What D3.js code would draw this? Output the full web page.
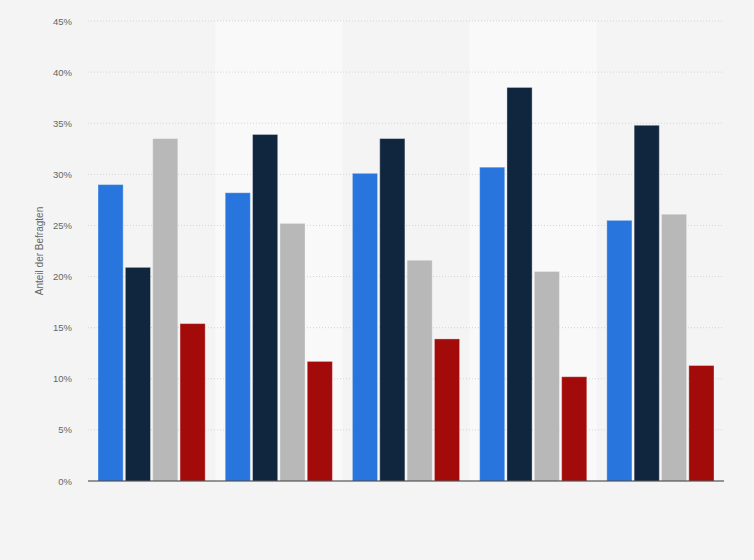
<!DOCTYPE html>
<html>
<head>
<meta charset="utf-8">
<script src="https://cdn.jsdelivr.net/npm/d3@7"></script>
<style>
  body { margin: 0; background: #f4f4f4; }
  .chart text { font-family: "Liberation Sans", Arial, sans-serif; }
</style>
</head>
<body>
<div class="chart"></div>
<script>
var margin = { top: 21, right: 30, bottom: 79, left: 88 }

var width = 754 - margin.left - margin.right;
var height = 560 - margin.top - margin.bottom;

// data (no category labels are shown)
var groups = ['g1', 'g2', 'g3', 'g4', 'g5'];
var seriesNames = ['s1', 's2', 's3', 's4'];
var series1 = [29.0, 28.2, 30.1, 30.7, 25.5];
var series2 = [20.9, 33.9, 33.5, 38.5, 34.8];
var series3 = [33.5, 25.2, 21.6, 20.5, 26.1];
var series4 = [15.4, 11.7, 13.9, 10.2, 11.3];
var yTicks = [0, 5, 10, 15, 20, 25, 30, 35, 40, 45];

var colors = ['#2876dd', '#10263f', '#b8b8b8', '#a30a0a'];
var allSeries = [series1, series2, series3, series4];

var svg = d3.select('.chart')
  .append('svg')
    .attr('width', width + margin.left + margin.right)
    .attr('height', height + margin.top + margin.bottom)
  .append('g')
    .attr('transform', `translate(${margin.left}, ${margin.top})`);

var yScale = d3.scaleLinear()
  .domain([0, 45])
  .range([height, 0]);

var xScale = d3.scaleBand()
  .domain(groups)
  .range([0, width]);

var xInner = d3.scaleBand()
  .domain(seriesNames)
  .range([10, xScale.bandwidth() - 10])
  .paddingInner(0.08);

// alternating column backgrounds
svg.selectAll('.band')
  .data(groups.filter((d, i) => i % 2 == 1))
  .enter()
  .append('rect')
    .attr('class', 'band')
    .attr('x', d => xScale(d))
    .attr('y', 0)
    .attr('width', xScale.bandwidth())
    .attr('height', height)
    .attr('fill', '#f9f9f9');

// gridlines
svg.selectAll('.grid')
  .data(yTicks.slice(1))
  .enter()
  .append('line')
    .attr('x1', 0)
    .attr('x2', width)
    .attr('y1', d => yScale(d))
    .attr('y2', d => yScale(d))
    .attr('stroke', '#d4d4d4')
    .attr('stroke-width', 1)
    .attr('stroke-dasharray', '1,2');

var yAxis = d3.axisLeft(yScale)
  .tickValues(yTicks)
  .tickFormat(d => d + '%')
  .tickSize(0)
  .tickPadding(16);

svg.append('g')
  .call(yAxis)
  .call(g => g.select('.domain').remove())
  .selectAll('text')
    .attr('fill', '#666')
    .style('font-size', '9.5px');

// bars
var rows = [];
groups.forEach((g, i) => {
  allSeries.forEach((s, j) => {
    rows.push({ group: g, name: seriesNames[j], value: s[i], color: colors[j] });
  });
});

svg.selectAll('.bar')
  .data(rows)
  .enter()
  .append('rect')
    .attr('class', 'bar')
    .attr('x', d => xScale(d.group) + xInner(d.name))
    .attr('y', d => yScale(d.value))
    .attr('width', xInner.bandwidth())
    .attr('height', d => height - yScale(d.value))
    .attr('fill', d => d.color)
    .attr('stroke', 'rgba(255,255,255,0.35)')
    .attr('stroke-width', 1);

// baseline
svg.append('line')
  .attr('x1', 0)
  .attr('x2', width)
  .attr('y1', height)
  .attr('y2', height)
  .attr('stroke', '#333')
  .attr('stroke-width', 1.2);

// y axis title
svg.append('text')
  .attr('transform', `translate(${-45}, ${height / 2}) rotate(-90)`)
  .attr('text-anchor', 'middle')
  .attr('fill', '#666')
  .style('font-size', '10px')
  .text('Anteil der Befragten');
</script>
</body>
</html>
